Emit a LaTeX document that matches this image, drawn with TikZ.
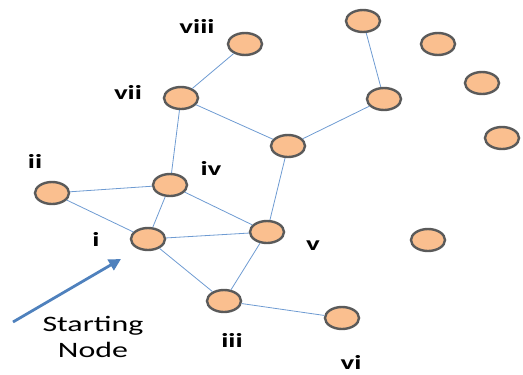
\documentclass[tikz,border=0pt]{standalone}
\usepackage{fontspec}
\setmainfont{Carlito}
\usepackage{tikz}
\usetikzlibrary{shapes.geometric,arrows.meta}

\definecolor{nodefill}{RGB}{250,191,143}
\definecolor{nodeline}{RGB}{90,90,90}
\definecolor{edgeblue}{RGB}{110,155,210}
\definecolor{arrowblue}{RGB}{79,129,189}

\begin{document}
\begin{tikzpicture}[x=1pt,y=-1pt,
  vertex/.style={ellipse,draw=nodeline,line width=2.4pt,fill=nodefill,minimum width=34pt,minimum height=22pt,inner sep=0pt},
  edge/.style={draw=edgeblue,line width=0.8pt},
  lbl/.style={font=\bfseries\fontsize{20}{24}\selectfont,xscale=1.45,transform shape,inner sep=0pt}]
\useasboundingbox (0,0) rectangle (523,375);

% vertices
\node[vertex] (ni) at (148,239) {};
\node[vertex] (nii) at (52,193) {};
\node[vertex] (niii) at (224,301) {};
\node[vertex] (niv) at (170,185) {};
\node[vertex] (nv) at (267,232) {};
\node[vertex] (nvi) at (342,318) {};
\node[vertex] (nvii) at (181,98) {};
\node[vertex] (nviii) at (245,44) {};

% vertices without a label
\node[vertex] (p1) at (288,146) {};
\node[vertex] (p2) at (384,99) {};
\node[vertex] (p3) at (363,21) {};
\node[vertex] (p4) at (438,44) {};
\node[vertex] (p5) at (482,83) {};
\node[vertex] (p6) at (502,138) {};
\node[vertex] (p7) at (428,240) {};

% edges
\draw[edge] (nviii) -- (nvii);
\draw[edge] (nvii) -- (p1);
\draw[edge] (nvii) -- (niv);
\draw[edge] (p1) -- (p2);
\draw[edge] (p2) -- (p3);
\draw[edge] (p1) -- (nv);
\draw[edge] (nii) -- (niv);
\draw[edge] (nii) -- (ni);
\draw[edge] (niv) -- (ni);
\draw[edge] (niv) -- (nv);
\draw[edge] (ni) -- (nv);
\draw[edge] (ni) -- (niii);
\draw[edge] (nv) -- (niii);
\draw[edge] (niii) -- (nvi);

% labels
\node[lbl] (li) at (96,239) {i};
\node[lbl] (lii) at (35,161) {ii};
\node[lbl] (liii) at (232,340) {iii};
\node[lbl] (liv) at (211,168) {iv};
\node[lbl] (lv) at (313,246) {v};
\node[lbl] (lvi) at (351,362) {vi};
\node[lbl] (lvii) at (128,92) {vii};
\node[lbl] (lviii) at (197,26) {viii};

% starting node
\coordinate (tail) at (13,322);
\coordinate (tip) at (121,259);
\draw[arrowblue,line width=2.8pt,-{Triangle[length=12pt,width=12pt]}] (tail) -- (tip);
\node[align=center,font=\fontsize{22}{26}\selectfont,xscale=1.45,transform shape,inner sep=0pt] (start) at (93,337) {Starting\\Node};
\end{tikzpicture}
\end{document}
